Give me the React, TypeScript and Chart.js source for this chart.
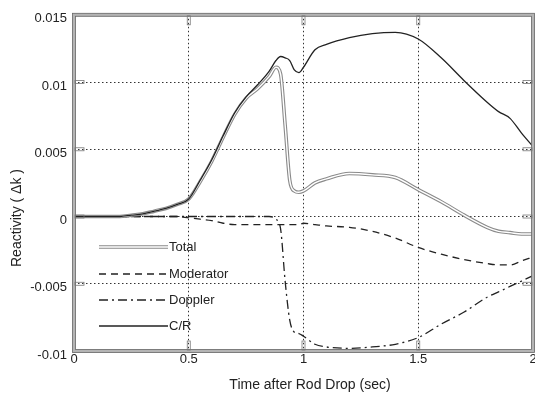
import React, { useEffect, useRef } from "react";
import { Chart, registerables } from "chart.js";

Chart.register(...registerables);

// ---- data (time in seconds, reactivity in Δk) ----
const times = [0, 0.1, 0.2, 0.25, 0.3, 0.35, 0.4, 0.45, 0.5, 0.55, 0.6, 0.65, 0.7, 0.75, 0.8, 0.85, 0.88, 0.9, 0.92, 0.94, 0.96, 0.98, 1.0, 1.05, 1.1, 1.2, 1.3, 1.4, 1.5, 1.6, 1.7, 1.8, 1.85, 1.9, 1.95, 2.0];

const totalVals = [0, 0, 0, 0.0001, 0.0002, 0.0004, 0.0006, 0.0009, 0.0013, 0.0026, 0.0041, 0.0059, 0.0076, 0.0088, 0.0095, 0.0104, 0.0111, 0.0106, 0.0068, 0.0027, 0.0019, 0.0018, 0.0019, 0.0025, 0.0028, 0.0032, 0.0031, 0.0029, 0.002, 0.0011, 0.0001, -0.0008, -0.0011, -0.0012, -0.0013, -0.0013];

const moderatorVals = [0, 0, 0, 0, 0, 0, 0, 0, -0.0001, -0.0002, -0.0003, -0.0005, -0.0006, -0.0006, -0.0006, -0.0006, -0.0006, -0.0006, -0.0006, -0.0006, -0.0006, -0.0006, -0.0005, -0.0006, -0.0007, -0.0008, -0.0011, -0.0016, -0.0023, -0.0028, -0.0032, -0.0035, -0.0036, -0.0036, -0.0033, -0.003];

const dopplerVals = [0, 0, 0, 0, 0, 0, 0, 0, 0, 0, 0, 0, 0, 0, 0, 0, -0.0002, -0.0009, -0.0048, -0.0077, -0.0086, -0.0087, -0.0089, -0.0095, -0.0097, -0.0098, -0.0097, -0.0095, -0.009, -0.008, -0.0071, -0.006, -0.0056, -0.0052, -0.0048, -0.0044];

const crVals = [0, 0, 0, 0.0001, 0.0002, 0.0004, 0.0006, 0.0009, 0.0013, 0.0027, 0.0042, 0.006, 0.0077, 0.0089, 0.0098, 0.0108, 0.0116, 0.0119, 0.0118, 0.0116, 0.0109, 0.0107, 0.0111, 0.0124, 0.0128, 0.0133, 0.0136, 0.0137, 0.0132, 0.0118, 0.0101, 0.0085, 0.0078, 0.0073, 0.0062, 0.0052];

const xTickLabels = ["0", "0.5", "1", "1.5", "2"];
const yTickLabels = ["-0.01", "-0.005", "0", "0.005", "0.01", "0.015"];
const legendLabels = ["Total", "Moderator", "Doppler", "C/R"];

const FONT = "'Liberation Sans', Arial, Helvetica, sans-serif";
const INK = "#222";

const pts = (vals: number[]) => vals.map((v, i) => ({ x: times[i], y: v }));

const decorPlugin = {
  id: "decor",
  afterDraw(chart: any) {
    const { ctx, chartArea } = chart;
    const { left, top, right, bottom } = chartArea;
    const xs = chart.scales.x;
    const ys = chart.scales.y;
    ctx.save();
    // frame (double grey line)
    ctx.strokeStyle = "#b4b4b4";
    ctx.lineWidth = 3;
    ctx.strokeRect(left, top, right - left, bottom - top);
    ctx.strokeStyle = "#666";
    ctx.lineWidth = 0.8;
    ctx.strokeRect(left - 1.5, top - 1.5, right - left + 3, bottom - top + 3);
    ctx.strokeRect(left + 1.5, top + 1.5, right - left - 3, bottom - top - 3);

    // tick marks (small hollow rectangles)
    ctx.strokeStyle = "#777";
    ctx.lineWidth = 0.8;
    [0.5, 1, 1.5].forEach((v) => {
      const px = xs.getPixelForValue(v);
      ctx.strokeRect(px - 1.5, top + 1, 3, 9);
      ctx.strokeRect(px - 1.5, bottom - 10, 3, 9);
    });
    [-0.005, 0, 0.005, 0.01].forEach((v) => {
      const py = ys.getPixelForValue(v);
      ctx.strokeRect(left + 1, py - 1.5, 9, 3);
      ctx.strokeRect(right - 10, py - 1.5, 9, 3);
    });

    // legend
    const styles = [
      { kind: "double" },
      { kind: "dash", dash: [7, 5] },
      { kind: "dash", dash: [9, 4, 2, 4] },
      { kind: "solid" },
    ];
    const ly = [247, 274, 300, 326];
    const x0 = 99;
    const x1 = 168;
    ctx.font = `13px ${FONT}`;
    ctx.textBaseline = "middle";
    ctx.textAlign = "left";
    legendLabels.forEach((lab, i) => {
      const s: any = styles[i];
      const y = ly[i];
      ctx.beginPath();
      ctx.moveTo(x0, y);
      ctx.lineTo(x1, y);
      if (s.kind === "double") {
        ctx.setLineDash([]);
        ctx.strokeStyle = "#8a8a8a";
        ctx.lineWidth = 3.5;
        ctx.stroke();
        ctx.strokeStyle = "#fff";
        ctx.lineWidth = 1.4;
        ctx.stroke();
      } else if (s.kind === "dash") {
        ctx.setLineDash(s.dash);
        ctx.strokeStyle = INK;
        ctx.lineWidth = 1.3;
        ctx.stroke();
      } else {
        ctx.setLineDash([]);
        ctx.strokeStyle = INK;
        ctx.lineWidth = 1.3;
        ctx.stroke();
      }
      ctx.setLineDash([]);
      ctx.fillStyle = INK;
      ctx.fillText(lab, x1 + 1, y);
    });

    // axis titles
    ctx.fillStyle = INK;
    ctx.font = `14px ${FONT}`;
    ctx.textAlign = "center";
    ctx.textBaseline = "middle";
    ctx.fillText("Time after Rod Drop (sec)", 310, 385);
    ctx.translate(17, 218);
    ctx.rotate(-Math.PI / 2);
    ctx.fillText("Reactivity ( \u0394k )", 0, 0);
    ctx.restore();
  },
};

export default function App() {
  const ref = useRef<HTMLCanvasElement | null>(null);
  useEffect(() => {
    if (!ref.current) return;
    const gridColor = (c: any) => {
      const v = c.tick ? c.tick.value : 0;
      const sc = c.scale;
      if (Math.abs(v - sc.min) < 1e-9 || Math.abs(v - sc.max) < 1e-9) return "rgba(0,0,0,0)";
      return "#333";
    };
    const chart = new Chart(ref.current, {
      type: "line",
      data: {
        datasets: [
          { label: "Total", data: pts(totalVals), borderColor: "#8a8a8a", borderWidth: 3.6, order: 2 },
          { label: "Total-inner", data: pts(totalVals), borderColor: "#ffffff", borderWidth: 1.4, order: 1 },
          { label: "Moderator", data: pts(moderatorVals), borderColor: INK, borderWidth: 1.3, borderDash: [7, 5], order: 3 },
          { label: "Doppler", data: pts(dopplerVals), borderColor: INK, borderWidth: 1.3, borderDash: [9, 4, 2, 4], order: 4 },
          { label: "C/R", data: pts(crVals), borderColor: INK, borderWidth: 1.3, order: 0 },
        ] as any,
      },
      options: {
        animation: false,
        responsive: false,
        devicePixelRatio: 1,
        layout: { padding: { top: 13, right: 2, left: 0, bottom: 0 } },
        elements: {
          point: { radius: 0 },
          line: { cubicInterpolationMode: "monotone", fill: false },
        },
        plugins: { legend: { display: false }, tooltip: { enabled: false } },
        scales: {
          x: {
            type: "linear",
            min: 0,
            max: 2,
            afterFit: (s: any) => {
              s.height = 47;
              s.paddingLeft = 0;
              s.paddingRight = 0;
            },
            afterBuildTicks: (s: any) => {
              s.ticks = xTickLabels.map((l) => ({ value: parseFloat(l) }));
            },
            ticks: {
              autoSkip: false,
              maxRotation: 0,
              padding: 1,
              color: INK,
              font: { family: FONT, size: 13 },
              callback: (v: any) => {
                const f = xTickLabels.find((l) => Math.abs(parseFloat(l) - v) < 1e-9);
                return f ?? "";
              },
            },
            grid: { color: gridColor, lineWidth: 1, drawTicks: false },
            border: { display: false, dash: [1.5, 2.5] },
          },
          y: {
            type: "linear",
            min: -0.01,
            max: 0.015,
            afterFit: (s: any) => {
              s.width = 74;
            },
            afterBuildTicks: (s: any) => {
              s.ticks = yTickLabels.map((l) => ({ value: parseFloat(l) }));
            },
            ticks: {
              autoSkip: false,
              padding: 7,
              labelOffset: 4,
              color: INK,
              font: { family: FONT, size: 13 },
              callback: (v: any) => {
                const f = yTickLabels.find((l) => Math.abs(parseFloat(l) - v) < 1e-9);
                return f ?? "";
              },
            },
            grid: { color: gridColor, lineWidth: 1, drawTicks: false },
            border: { display: false, dash: [1.5, 2.5] },
          },
        },
      },
      plugins: [decorPlugin],
    });
    return () => chart.destroy();
  }, []);
  return (
    <div style={{ position: "absolute", left: 0, top: 0, width: 535, height: 398, background: "#fff" }}>
      <canvas ref={ref} width={535} height={398} style={{ width: 535, height: 398 }} />
    </div>
  );
}
